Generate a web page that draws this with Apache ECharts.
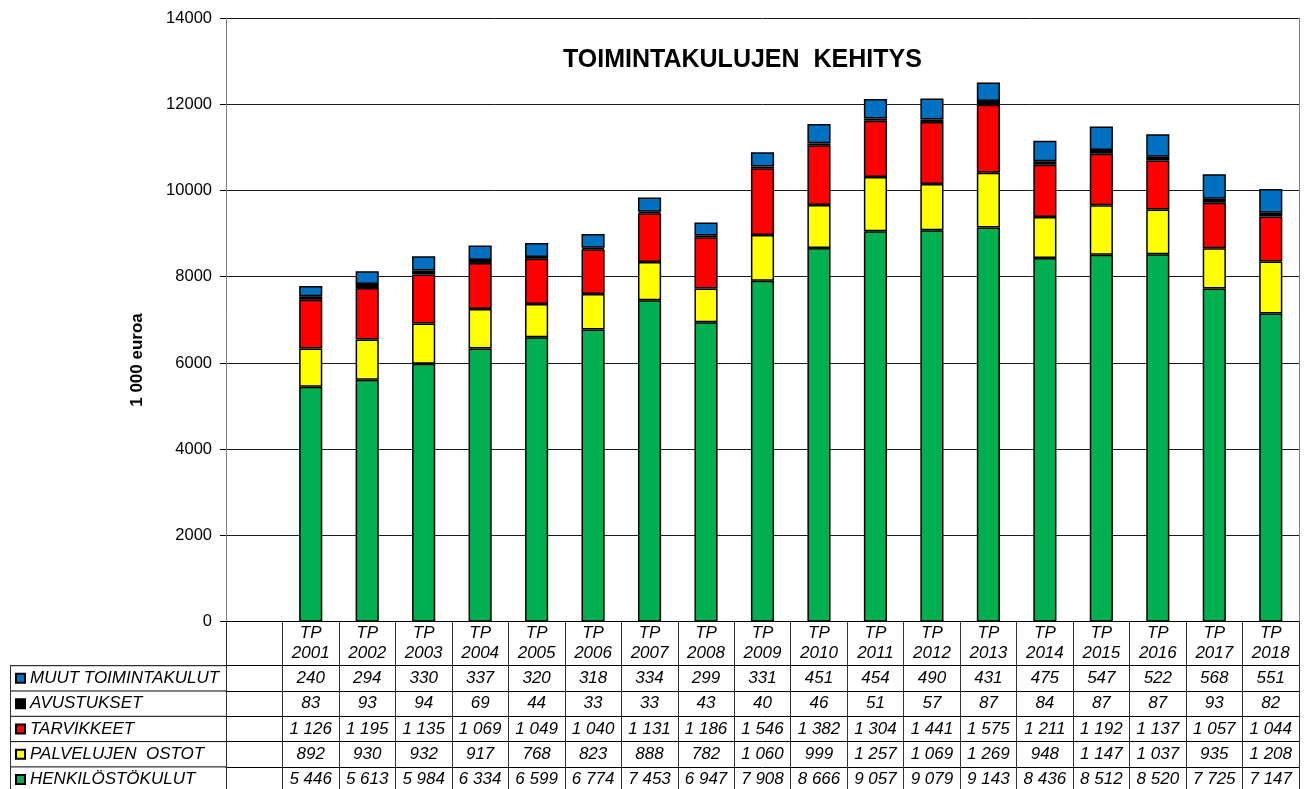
<!DOCTYPE html>
<html>
<head>
<meta charset="utf-8">
<title>Toimintakulujen kehitys</title>
<script src="https://cdn.jsdelivr.net/npm/echarts@6/dist/echarts.min.js"></script>
<style>
  html, body { margin: 0; padding: 0; background: #fff; }
  #chart { width: 1307px; height: 789px; }
</style>
</head>
<body>
<div id="chart"></div>
<script>
const years = [2001, 2002, 2003, 2004, 2005, 2006, 2007, 2008, 2009,
  2010, 2011, 2012, 2013, 2014, 2015, 2016, 2017, 2018];

const muut = [240, 294, 330, 337, 320, 318, 334, 299, 331, 451, 454, 490, 431, 475, 547, 522, 568, 551];
const avustukset = [83, 93, 94, 69, 44, 33, 33, 43, 40, 46, 51, 57, 87, 84, 87, 87, 93, 82];
const tarvikkeet = [1126, 1195, 1135, 1069, 1049, 1040, 1131, 1186, 1546, 1382, 1304, 1441, 1575, 1211, 1192, 1137, 1057, 1044];
const palvelut = [892, 930, 932, 917, 768, 823, 888, 782, 1060, 999, 1257, 1069, 1269, 948, 1147, 1037, 935, 1208];
const henkilosto = [5446, 5613, 5984, 6334, 6599, 6774, 7453, 6947, 7908, 8666, 9057, 9079, 9143, 8436, 8512, 8520, 7725, 7147];

const yTicks = [0, 2000, 4000, 6000, 8000, 10000, 12000, 14000];

// rivit taulukossa ylhäältä alas
const rows = [
  { name: "MUUT TOIMINTAKULUT", data: muut, color: "#0070C0" },
  { name: "AVUSTUKSET", data: avustukset, color: "#000000" },
  { name: "TARVIKKEET", data: tarvikkeet, color: "#FF0000" },
  { name: "PALVELUJEN  OSTOT", data: palvelut, color: "#FFFF00" },
  { name: "HENKILÖSTÖKULUT", data: henkilosto, color: "#00B050" },
];

// ensimmäinen sarake on tyhjä kuten alkuperäisessä
const categories = [""].concat(years.map((y) => "TP\n" + y));

const FONT = '"Liberation Sans", Arial, sans-serif';
const GRID_LEFT = 226;
const GRID_RIGHT = 8;
const GRID_TOP = 18;
const GRID_BOTTOM = 167.3;
const AXIS_Y = 789 - GRID_BOTTOM;
const HEAD_H = 44;
const ROW_H = 25.3;

const fmt = (v) => String(v).replace(/\B(?=(\d{3})+(?!\d))/g, " ");

const chart = echarts.init(document.getElementById("chart"));

// pinoamisjärjestys alhaalta ylös
const series = rows.slice().reverse().map((r) => ({
  name: r.name,
  type: "bar",
  stack: "kulut",
  data: [null].concat(r.data),
  barWidth: "41%",
  itemStyle: {
    color: r.color,
    borderColor: "#000",
    borderWidth: 1.5,
  },
  emphasis: { disabled: true },
}));

const xAxes = [
  {
    type: "category",
    data: categories,
    position: "bottom",
    axisLine: { onZero: false, lineStyle: { color: "#000", width: 1 } },
    axisTick: { show: true, interval: 0, length: HEAD_H, lineStyle: { color: "#333" } },
    axisLabel: {
      interval: 0,
      color: "#000",
      fontFamily: FONT,
      fontStyle: "italic",
      fontSize: 17,
      lineHeight: 20,
      verticalAlign: "middle",
      margin: 22,
    },
    splitLine: { show: false },
  },
];

rows.forEach((r, k) => {
  xAxes.push({
    type: "category",
    data: categories,
    position: "bottom",
    offset: HEAD_H + ROW_H * k,
    axisLine: { onZero: false, lineStyle: { color: "#000", width: 1 } },
    axisTick: { show: true, interval: 0, length: ROW_H, lineStyle: { color: "#333" } },
    axisLabel: {
      interval: 0,
      color: "#000",
      fontFamily: FONT,
      fontStyle: "italic",
      fontSize: 17,
      verticalAlign: "middle",
      margin: ROW_H / 2,
      formatter: (v, i) => (i === 0 ? "" : fmt(r.data[i - 1])),
    },
    splitLine: { show: false },
  });
});

// taulukon vasemman reunan viivat
const tableLines = [];
for (let k = 0; k <= rows.length; k++) {
  const y = AXIS_Y + HEAD_H + ROW_H * k;
  tableLines.push({
    type: "line",
    shape: { x1: 10, y1: y, x2: GRID_LEFT, y2: y },
    style: { stroke: "#000", lineWidth: 1 },
    silent: true,
  });
}
tableLines.push({
  type: "line",
  shape: { x1: 10.5, y1: AXIS_Y + HEAD_H, x2: 10.5, y2: 789 },
  style: { stroke: "#333", lineWidth: 1 },
  silent: true,
});

const option = {
  animation: false,
  title: {
    text: "TOIMINTAKULUJEN  KEHITYS",
    left: 558,
    top: 43,
    textStyle: {
      fontFamily: FONT,
      fontWeight: "bold",
      fontSize: 25,
      color: "#000",
    },
  },
  legend: {
    orient: "vertical",
    left: 15,
    top: AXIS_Y + HEAD_H,
    height: 200,
    padding: 0,
    itemGap: 0,
    itemWidth: 9,
    itemHeight: 9,
    icon: "rect",
    selectedMode: false,
    data: rows.map((r) => r.name),
    textStyle: {
      fontFamily: FONT,
      fontStyle: "italic",
      fontSize: 17,
      lineHeight: ROW_H,
      color: "#000",
    },
  },
  grid: {
    left: GRID_LEFT,
    right: GRID_RIGHT,
    top: GRID_TOP,
    bottom: GRID_BOTTOM,
    containLabel: false,
  },
  xAxis: xAxes,
  yAxis: [
    {
      type: "value",
      position: "left",
      min: yTicks[0],
      max: yTicks[yTicks.length - 1],
      interval: 2000,
      axisLine: { show: true, lineStyle: { color: "#808080" } },
      axisTick: { show: true, length: 6, lineStyle: { color: "#000" } },
      axisLabel: {
        color: "#000",
        fontFamily: FONT,
        fontSize: 16.5,
        margin: 14,
        formatter: (v) => String(v),
      },
      splitLine: { show: true, lineStyle: { color: "#1a1a1a", width: 1 } },
    },
    {
      type: "value",
      position: "right",
      min: yTicks[0],
      max: yTicks[yTicks.length - 1],
      interval: 2000,
      axisLine: { show: true, lineStyle: { color: "#808080" } },
      axisTick: { show: false },
      axisLabel: { show: false },
      splitLine: { show: false },
    },
  ],
  graphic: [
    {
      type: "text",
      x: 137,
      y: 360,
      rotation: Math.PI / 2,
      style: {
        text: "1 000 euroa",
        fontFamily: FONT,
        fontWeight: "bold",
        fontSize: 17,
        fill: "#000",
        align: "center",
        verticalAlign: "middle",
      },
      silent: true,
    },
  ].concat(tableLines),
  series: series,
};

chart.setOption(option);
</script>
</body>
</html>
